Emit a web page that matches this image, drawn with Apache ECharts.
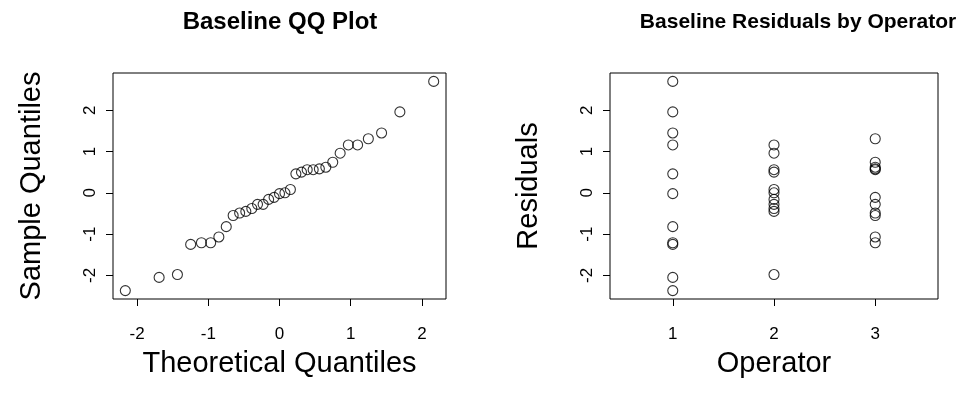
<!DOCTYPE html>
<html>
<head>
<meta charset="utf-8">
<script src="https://cdn.jsdelivr.net/npm/echarts@6/dist/echarts.min.js"></script>
<style>
html,body{margin:0;padding:0;background:#fff;}
#chart{width:969px;height:400px;}
</style>
</head>
<body>
<div id="chart"></div>
<script>
// Theoretical quantiles (x) and sorted sample quantiles (y) for the QQ plot
const theoretical = [-2.166,-1.691,-1.434,-1.248,-1.097,-0.967,-0.852,-0.748,-0.651,-0.560,-0.473,-0.389,-0.309,-0.230,-0.153,-0.076,0,0.076,0.153,0.230,0.309,0.389,0.473,0.560,0.651,0.748,0.852,0.967,1.097,1.248,1.434,1.691,2.166];
const sampleQuantiles = [-2.37,-2.05,-1.98,-1.25,-1.21,-1.21,-1.07,-0.82,-0.55,-0.49,-0.45,-0.38,-0.28,-0.28,-0.16,-0.11,-0.02,0.00,0.08,0.46,0.50,0.56,0.56,0.58,0.62,0.74,0.96,1.16,1.16,1.31,1.45,1.96,2.70];
// Residuals by operator
const operators = [1, 2, 3];
const residualsOp1 = [2.70,1.96,1.45,1.16,0.46,-0.02,-0.82,-1.21,-1.25,-2.05,-2.37];
const residualsOp2 = [1.16,0.96,0.56,0.50,0.08,0.00,-0.16,-0.28,-0.38,-0.45,-1.98];
const residualsOp3 = [1.31,0.74,0.62,0.58,0.56,-0.11,-0.28,-0.49,-0.55,-1.07,-1.21];
// Tick labels
const qqXTicks = [-2, -1, 0, 1, 2];
const yTicks = [-2, -1, 0, 1, 2];

const FONT = "'Liberation Sans', Arial, Helvetica, sans-serif";

const qqData = theoretical.map((t, i) => [t, sampleQuantiles[i]]);
const residualGroups = [residualsOp1, residualsOp2, residualsOp3];
const opData = [];
residualGroups.forEach((g, k) => g.forEach(v => opData.push([operators[k], v])));

const chart = echarts.init(document.getElementById('chart'), null, {renderer: 'canvas'});

function axis(opts, ticks, isY) {
  return Object.assign({
    type: 'value',
    nameLocation: 'middle',
    nameTextStyle: {fontFamily: FONT, fontSize: 29, color: '#000'},
    axisLine: {show: false, onZero: false},
    axisTick: {show: true, inside: false, length: 7, lineStyle: {color: '#000', width: 1}, customValues: ticks},
    axisLabel: {fontFamily: FONT, fontSize: 17, color: '#000', margin: isY ? 14 : 27, rotate: isY ? 90 : 0, customValues: ticks},
    splitLine: {show: false}
  }, opts);
}

const symbolStyle = {color: 'rgba(0,0,0,0)', borderColor: '#000', borderWidth: 1.1};

chart.setOption({
  backgroundColor: '#fff',
  animation: false,
  graphic: [
    {type: 'text', x: 280, y: 22, style: {text: 'Baseline QQ Plot', font: "bold 24px " + FONT, fill: '#000', align: 'center', verticalAlign: 'middle'}},
    {type: 'text', x: 798, y: 22, style: {text: 'Baseline Residuals by Operator', font: "bold 21px " + FONT, fill: '#000', align: 'center', verticalAlign: 'middle'}}
  ],
  grid: [
    {left: 113, top: 73, width: 333, height: 226, show: true, borderColor: '#000', borderWidth: 1, backgroundColor: 'transparent'},
    {left: 610, top: 73, width: 328, height: 226, show: true, borderColor: '#000', borderWidth: 1, backgroundColor: 'transparent'}
  ],
  xAxis: [
    axis({gridIndex: 0, min: -2.339, max: 2.339, name: 'Theoretical Quantiles', nameGap: 50}, qqXTicks, false),
    axis({gridIndex: 1, min: 0.38, max: 3.62, name: 'Operator', nameGap: 50}, operators, false)
  ],
  yAxis: [
    axis({gridIndex: 0, min: -2.573, max: 2.903, name: 'Sample Quantiles', nameGap: 67}, yTicks, true),
    axis({gridIndex: 1, min: -2.573, max: 2.903, name: 'Residuals', nameGap: 67}, yTicks, true)
  ],
  series: [
    {type: 'scatter', xAxisIndex: 0, yAxisIndex: 0, data: qqData, symbol: 'circle', symbolSize: 10, itemStyle: symbolStyle, emphasis: {disabled: true}},
    {type: 'scatter', xAxisIndex: 1, yAxisIndex: 1, data: opData, symbol: 'circle', symbolSize: 10, itemStyle: symbolStyle, emphasis: {disabled: true}}
  ]
});
</script>
</body>
</html>
